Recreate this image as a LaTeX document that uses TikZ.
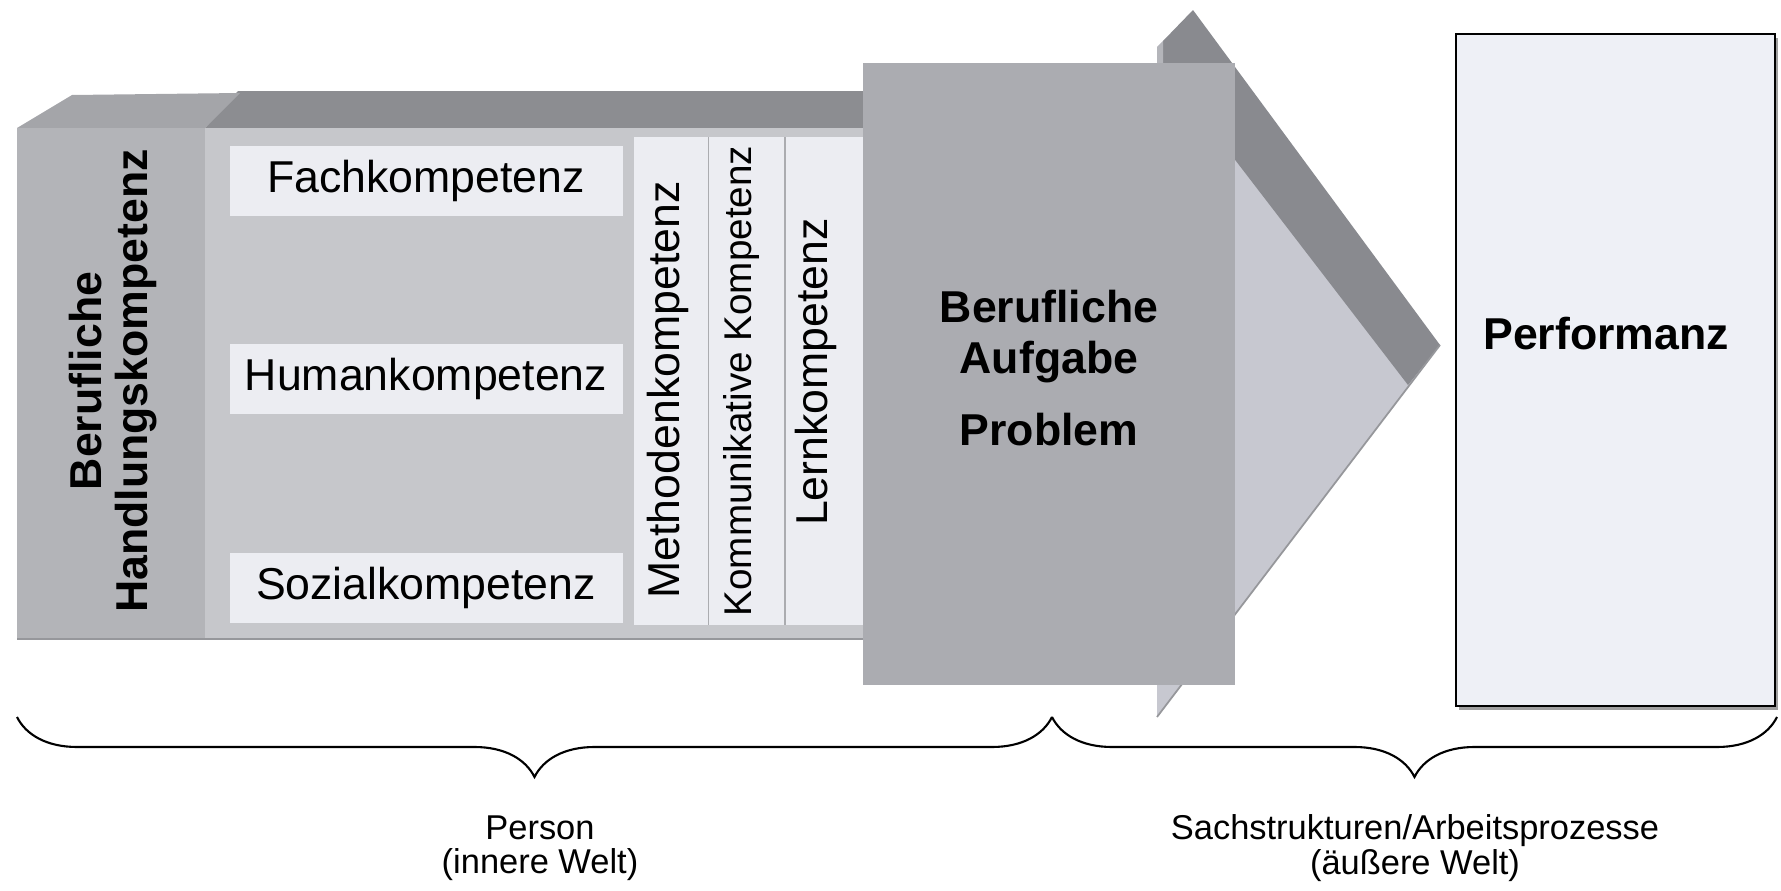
\documentclass[tikz,border=0pt]{standalone}
\usepackage{fontspec}
\setmainfont{Liberation Sans}
\usetikzlibrary{positioning, decorations.pathreplacing}
\definecolor{kompFront}{HTML}{B3B4B8}
\definecolor{kompTopL}{HTML}{A4A5A9}
\definecolor{kompTopM}{HTML}{8C8D91}
\definecolor{kompBar}{HTML}{C6C7CB}
\definecolor{kompBox}{HTML}{ECEDF2}
\definecolor{kompLine}{HTML}{ABACB0}
\definecolor{kompTask}{HTML}{ABACB1}
\definecolor{kompArrowL}{HTML}{C7C8D0}
\definecolor{kompArrowD}{HTML}{898A8F}
\definecolor{kompArrowS}{HTML}{B4B5BA}
\definecolor{kompPerf}{HTML}{EEF0F6}
\definecolor{kompEdge}{HTML}{96979B}

\begin{document}
\begin{tikzpicture}[
    x=0.1mm, y=-0.1mm,
    every node/.style={font=\fontsize{12.7}{15}\selectfont, text=black, inner sep=0pt},
    facebox/.style={fill=kompBox, minimum width=39.3mm, minimum height=7mm},
    boldlabel/.style={font=\fontsize{12.7}{13}\selectfont\bfseries},
    collabel/.style={rotate=90},
    bracepath/.style={decorate, decoration={brace, mirror, amplitude=6mm}, line width=0.6pt},
    worldlabel/.style={font=\fontsize{9.8}{9.8}\selectfont, align=center}
]
\useasboundingbox (0,0) rectangle (1781,891);

% ============================
% Arrow head (behind the task block)
% ============================
\fill[kompArrowL] (1157,47) -- (1163,41) -- (1440,345) -- (1157,717) -- cycle;
\fill[kompArrowD] (1163,41) -- (1193,10) -- (1440,345) -- (1408,385) -- (1163,66) -- cycle;
\fill[kompArrowS] (1157,47) -- (1163,41) -- (1163,66) -- (1157,66) -- cycle;
\draw[kompEdge, line width=0.5pt] (1440,345) -- (1157,717);

% ============================
% Competence bar
% ============================
% top faces
\fill[kompTopM] (205,128) -- (238,91) -- (870,91) -- (870,128) -- cycle;
\fill[kompTopL] (17,128) -- (72,95) -- (240,93) -- (205,128) -- cycle;

% front faces
\fill[kompBar] (205,128) rectangle (870,639);
\fill[kompFront] (17,128) rectangle (205,639);
\draw[kompEdge, line width=0.5pt] (17,639) -- (863,639);

\node[boldlabel, collabel, align=center] (handlung) at (113,381) {Berufliche\\Handlungskompetenz};

% three boxes
\node[facebox] (fach) at (426,180.5) {Fachkompetenz};
\node[facebox] (human) at (426,378.5) {Humankompetenz};
\node[facebox] (sozial) at (426,588) {Sozialkompetenz};

% columns
\fill[kompBox] (634,137) rectangle (870,625);
\draw[kompLine, line width=0.4pt] (708.5,137) -- (708.5,625);
\draw[kompLine, line width=0.4pt] (785,137) -- (785,625);

\node[collabel] (methode) at (668,390) {Methodenkompetenz};
\node[collabel, font=\fontsize{11}{12}\selectfont] (kommunikation) at (742,381) {Kommunikative Kompetenz};
\node[collabel] (lernen) at (816,372) {Lernkompetenz};

% ============================
% Task block
% ============================
\fill[kompTask] (863,63) rectangle (1235,685);
\node[boldlabel, anchor=base] (aufgabe1) at (1049,322) {Berufliche};
\node[boldlabel, anchor=base] (aufgabe2) at (1049,373) {Aufgabe};
\node[boldlabel, anchor=base] (aufgabe3) at (1049,445) {Problem};

% ============================
% Performance box
% ============================
\fill[gray!75] (1459,38) rectangle (1778,710);
\node[draw=black, line width=0.8pt, fill=kompPerf, minimum width=31.9mm, minimum height=67.2mm] (perfbox) at (1615.5,370) {};
\node[boldlabel] (perf) at (1606,334) {Performanz};

% ============================
% Braces
% ============================
\coordinate (innenL) at (17,717);
\coordinate (mitte) at (1052,717);
\coordinate (aussenR) at (1777,717);
\draw[bracepath] (innenL) -- (mitte);
\draw[bracepath] (mitte) -- (aussenR);

\node[worldlabel] (person) at (540,848) {Person\\(innere Welt)};
\node[worldlabel] (sache) at (1415,848) {Sachstrukturen/Arbeitsprozesse\\(äußere Welt)};

\end{tikzpicture}
\end{document}
